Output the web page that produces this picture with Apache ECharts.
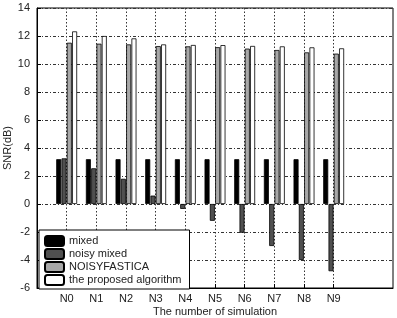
<!DOCTYPE html>
<html>
<head>
<meta charset="utf-8">
<script src="https://cdn.jsdelivr.net/npm/echarts@6/dist/echarts.min.js"></script>
<style>html,body{margin:0;padding:0;background:#fff;}#c{width:397px;height:318px;}</style>
</head>
<body>
<div id="c"></div>
<script>
const categories = ['N0','N1','N2','N3','N4','N5','N6','N7','N8','N9'];
const mixed = [3.2, 3.2, 3.2, 3.2, 3.2, 3.2, 3.2, 3.2, 3.2, 3.2];
const noisyMixed = [3.26, 2.55, 1.8, 0.6, -0.35, -1.2, -2.05, -3.0, -4.0, -4.8];
const noisyFastica = [11.52, 11.45, 11.4, 11.28, 11.26, 11.2, 11.1, 11.0, 10.83, 10.74];
const proposed = [12.33, 12.0, 11.83, 11.4, 11.36, 11.35, 11.29, 11.26, 11.19, 11.12];
const seriesNames = ['mixed', 'noisy mixed', 'NOISYFASTICA', 'the proposed algorithm'];
const yTicks = { min: -6, max: 14, interval: 2 };

// pad: one empty slot before, two after, so the axis spans -1 .. 11
const axisCats = [''].concat(categories, ['', '']);
const pad = arr => [null].concat(arr, [null, null]);

const font = 'Liberation Sans, Arial, sans-serif';
const colors = ['#000000', '#505050', '#a8a8a8', '#ffffff'];
const datasets = [mixed, noisyMixed, noisyFastica, proposed];

const chart = echarts.init(document.getElementById('c'), null, {renderer: 'canvas'});
chart.setOption({
  animation: false,
  backgroundColor: '#fff',
  grid: { left: 37, right: 4, top: 8, bottom: 30, show: true, borderColor: '#000', borderWidth: 1, backgroundColor: 'transparent', outerBoundsMode: 'none', containLabel: false },
  legend: {
    orient: 'vertical', left: 39, top: 230,
    padding: [5, 8, 3, 5],
    itemWidth: 19, itemHeight: 10, itemGap: 1,
    backgroundColor: '#fff', borderColor: '#000', borderWidth: 1,
    textStyle: { fontFamily: font, fontSize: 11, color: '#222' },
    data: seriesNames
  },
  xAxis: {
    type: 'category', data: axisCats, boundaryGap: false,
    name: 'The number of simulation', nameLocation: 'middle', nameGap: 18, nameMoveOverlap: false,
    nameTextStyle: { fontFamily: font, fontSize: 11, color: '#222' },
    axisLine: { onZero: false, lineStyle: { color: '#000', width: 1 } },
    axisTick: { inside: true, length: 4, interval: (i, v) => v !== '', lineStyle: { color: '#000' } },
    axisLabel: { interval: 0, fontFamily: font, fontSize: 11, color: '#222', margin: 5 },
    splitLine: { show: true, interval: (i, v) => v !== '', lineStyle: { color: '#333', type: [1.5, 2], width: 1 } }
  },
  yAxis: {
    type: 'value', min: yTicks.min, max: yTicks.max, interval: yTicks.interval,
    name: 'SNR(dB)', nameLocation: 'middle', nameGap: 24, nameMoveOverlap: false,
    nameTextStyle: { fontFamily: font, fontSize: 11, color: '#222' },
    axisLine: { show: true, lineStyle: { color: '#000', width: 1 } },
    axisTick: { show: true, inside: true, length: 4, lineStyle: { color: '#000' } },
    axisLabel: { fontFamily: font, fontSize: 11, color: '#222', margin: 7 },
    splitLine: { show: true, lineStyle: { color: '#333', type: [3, 2, 1, 2], width: 1 } }
  },
  series: seriesNames.map((n, k) => ({
    name: n, type: 'bar', data: pad(datasets[k]),
    barWidth: 5, barGap: '6%',
    itemStyle: { color: colors[k], borderColor: '#000', borderWidth: 0.8 },
    z: 1
  }))
});
</script>
</body>
</html>
